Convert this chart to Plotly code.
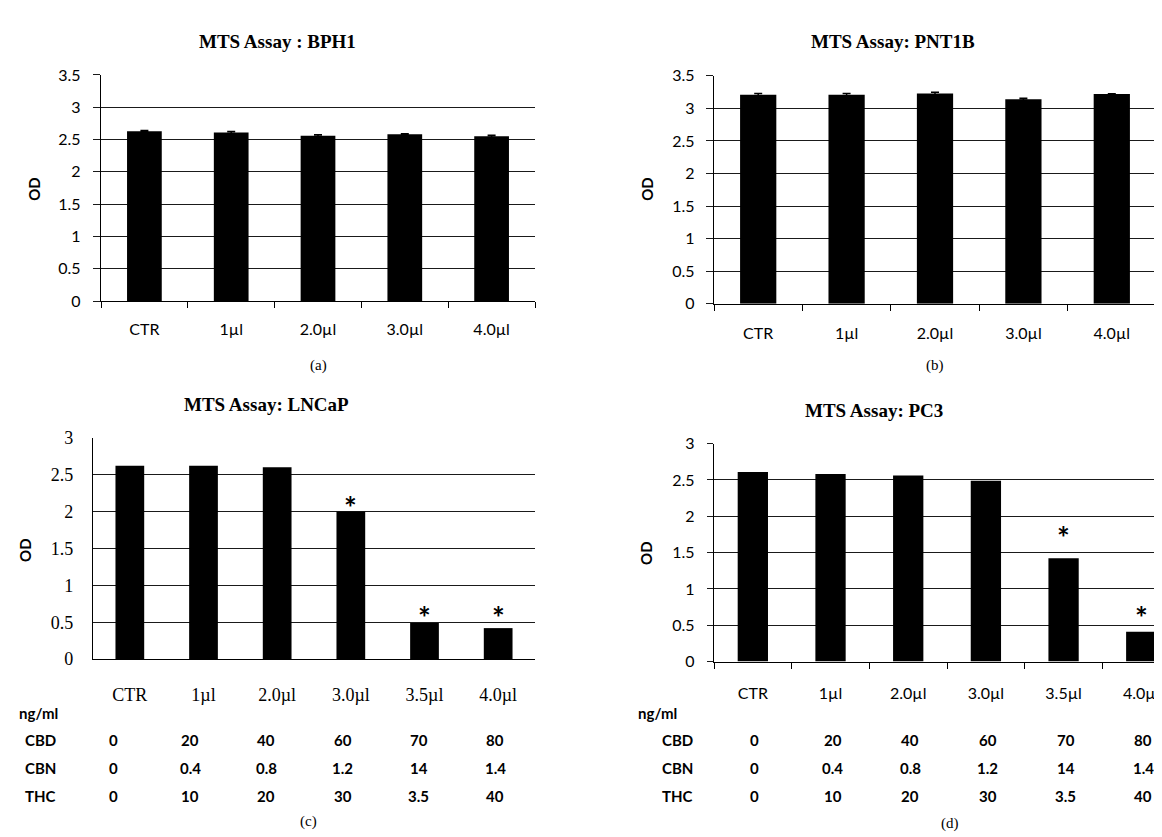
import plotly.graph_objects as go

W, H = 1162, 837

# ---------------- data ----------------
cats_ab = ["CTR", "1µl", "2.0µl", "3.0µl", "4.0µl"]
cats_cd = ["CTR", "1µl", "2.0µl", "3.0µl", "3.5µl", "4.0µl"]

bph1_od = [2.63, 2.61, 2.56, 2.58, 2.55]
bph1_err = [0.01, 0.015, 0.015, 0.01, 0.015]

pnt1b_od = [3.21, 3.21, 3.23, 3.14, 3.22]
pnt1b_err = [0.02, 0.02, 0.02, 0.015, 0.005]

lncap_od = [2.62, 2.62, 2.60, 2.00, 0.49, 0.42]
lncap_star = [None, None, None, 2.14, 0.65, 0.65]

pc3_od = [2.61, 2.58, 2.56, 2.49, 1.42, 0.41]
pc3_star = [None, None, None, None, 1.79, 0.69]

row_names = ["CBD", "CBN", "THC"]
cbd = ["0", "20", "40", "60", "70", "80"]
cbn = ["0", "0.4", "0.8", "1.2", "14", "1.4"]
thc = ["0", "10", "20", "30", "3.5", "40"]

titles = ["MTS Assay : BPH1", "MTS Assay: PNT1B", "MTS Assay: LNCaP", "MTS Assay: PC3"]
panel_tags = ["(a)", "(b)", "(c)", "(d)"]

# ---------------- helpers ----------------
def fx(px):
    return px / W

def fy(py):
    return 1 - py / H

SANS = "Lato"
SERIF = "Liberation Serif"

fig = go.Figure()

fig.add_trace(go.Bar(x=cats_ab, y=bph1_od, width=0.4, marker_color="black",
                     marker_line_width=0,
                     error_y=dict(type="data", array=bph1_err, color="black", thickness=1.5, width=4),
                     xaxis="x", yaxis="y", showlegend=False))
fig.add_trace(go.Bar(x=cats_ab, y=pnt1b_od, width=0.41, marker_color="black",
                     marker_line_width=0,
                     error_y=dict(type="data", array=pnt1b_err, color="black", thickness=1.5, width=4),
                     xaxis="x2", yaxis="y2", showlegend=False))
fig.add_trace(go.Bar(x=cats_cd, y=lncap_od, width=0.39, marker_color="black",
                     marker_line_width=0, xaxis="x3", yaxis="y3", showlegend=False))
fig.add_trace(go.Bar(x=cats_cd, y=pc3_od, width=0.39, marker_color="black",
                     marker_line_width=0, xaxis="x4", yaxis="y4", showlegend=False))

# panel pixel boxes: (x0, x1, ytop, ybottom)
boxes = {
    "a": (93, 527, 58.3, 290.0),
    "b": (706, 1148, 59.3, 292.7),
    "c": (85, 527, 430.0, 656.8),
    "d": (706, 1162, 436.0, 659.3),
}

GRID = "#1a1a1a"

def yax(box, rng, dtick, font, ticklen, standoff):
    x0, x1, yt, yb = box
    return dict(domain=[fy(yb), fy(yt)], range=rng, dtick=dtick, tick0=0,
                showgrid=True, gridcolor=GRID, gridwidth=1.2, zeroline=False,
                showline=True, linecolor="black", linewidth=1.3,
                ticks="outside" if ticklen else "", ticklen=ticklen, tickcolor=GRID,
                tickwidth=1.2,
                tickfont=font, ticklabelstandoff=standoff, fixedrange=True)

def xax(box, rng, font, ticklen, standoff, anchor):
    x0, x1, yt, yb = box
    return dict(domain=[fx(x0), fx(x1)], range=rng, type="category",
                showgrid=False, zeroline=False, showline=True, linecolor="black",
                linewidth=1.3, ticks="outside" if ticklen else "", ticklen=ticklen,
                tickcolor="black", tickwidth=1.2, tickson="boundaries", tickfont=font,
                ticklabelstandoff=standoff, anchor=anchor, fixedrange=True)

sans_tick = dict(family=SANS, size=16, color="black")
serif_tick = dict(family=SERIF, size=18, color="black")

fig.update_layout(
    xaxis=xax(boxes["a"], [-0.5, 4.5], sans_tick, 6, 14, "y"),
    yaxis=yax(boxes["a"], [0, 3.5], 0.5, sans_tick, 7, 9),
    xaxis2=xax(boxes["b"], [-0.5, 4.5], sans_tick, 6, 15, "y2"),
    yaxis2=yax(boxes["b"], [0, 3.5], 0.5, sans_tick, 7, 8),
    xaxis3=xax(boxes["c"], [-0.5, 5.5], serif_tick, 0, 19, "y3"),
    yaxis3=yax(boxes["c"], [0, 3], 0.5, serif_tick, 0, 15),
    xaxis4=xax(boxes["d"], [-0.5, 5.37], sans_tick, 6, 17, "y4"),
    yaxis4=yax(boxes["d"], [0, 3], 0.5, sans_tick, 6, 9),
)
fig.layout.yaxis.anchor = "x"
fig.layout.yaxis2.anchor = "x2"
fig.layout.yaxis3.anchor = "x3"
fig.layout.yaxis4.anchor = "x4"

ann = []
# titles
title_pos = [(269, 24), (885, 24), (258, 396), (866, 402)]
for t, (px, py) in zip(titles, title_pos):
    ann.append(dict(text=t, x=fx(px), y=fy(py), xref="paper", yref="paper",
                    showarrow=False, xanchor="center", yanchor="middle",
                    font=dict(family=SERIF, size=19, color="black", weight="bold")))
# panel tags
tag_pos = [(310, 356), (927, 356), (300, 823), (942, 825)]
for t, (px, py) in zip(panel_tags, tag_pos):
    ann.append(dict(text=t, x=fx(px), y=fy(py), xref="paper", yref="paper",
                    showarrow=False, xanchor="center", yanchor="middle",
                    font=dict(family=SERIF, size=15, color="black")))
# OD labels
od_pos = [(26, 175), (639, 175), (17, 545), (638, 548)]
for (px, py) in od_pos:
    ann.append(dict(text="OD", x=fx(px), y=fy(py), xref="paper", yref="paper",
                    showarrow=False, xanchor="center", yanchor="middle", textangle=-90,
                    font=dict(family=SANS, size=15, color="black", weight="bold")))

# asterisks
for xa, ya, stars in (("x3", "y3", lncap_star), ("x4", "y4", pc3_star)):
    for c, s in zip(cats_cd, stars):
        if s is None:
            continue
        ann.append(dict(text="*", x=c, y=s, xref=xa, yref=ya, showarrow=False,
                        xanchor="center", yanchor="middle", yshift=-6,
                        font=dict(family=SANS, size=30, color="black", weight="bold")))

# tables under c and d
table_font = dict(family=SANS, size=15, color="black", weight="bold")
row_y = [740, 768, 797]
rows = [cbd, cbn, thc]
for xa, shift0, dshift, ng_x, lab_x in (("x3", -16, 2.6, 9, 15), ("x4", 2, 0, 628, 652)):
    ann.append(dict(text="ng/ml", x=fx(ng_x), y=fy(712), xref="paper", yref="paper",
                    showarrow=False, xanchor="left", yanchor="middle", font=table_font))
    for name, vals, py in zip(row_names, rows, row_y):
        ann.append(dict(text=name, x=fx(lab_x), y=fy(py), xref="paper", yref="paper",
                        showarrow=False, xanchor="left", yanchor="middle", font=table_font))
        for i, (c, v) in enumerate(zip(cats_cd, vals)):
            ann.append(dict(text=v, x=c, y=fy(py), xref=xa, yref="paper",
                            showarrow=False, xanchor="center", yanchor="middle",
                            xshift=shift0 + dshift * i, font=table_font))

fig.update_layout(
    annotations=ann,
    width=W, height=H,
    margin=dict(l=0, r=0, t=0, b=0),
    paper_bgcolor="white", plot_bgcolor="white",
    bargap=0.6,
    showlegend=False,
)

fig.write_html("out.html", config={"displayModeBar": False})
